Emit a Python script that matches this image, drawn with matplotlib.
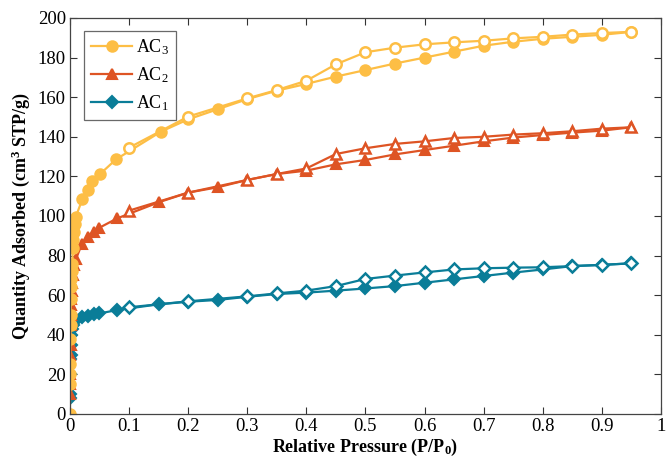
import matplotlib
matplotlib.use("Agg")
import matplotlib.pyplot as plt

plt.rcParams['font.family'] = ['Liberation Serif', 'DejaVu Serif']
plt.rcParams['mathtext.fontset'] = 'custom'
plt.rcParams['mathtext.rm'] = 'Liberation Serif'
plt.rcParams['mathtext.bf'] = 'Liberation Serif:bold'
plt.rcParams['mathtext.default'] = 'regular'

# ---------------- data ----------------
# AC3 adsorption
ac3_ads_p = [0.0, 0.0002, 0.0004, 0.0006, 0.0008, 0.001, 0.0012, 0.0015, 0.002, 0.0025,
             0.003, 0.004, 0.005, 0.006, 0.007, 0.008, 0.01, 0.021, 0.03, 0.038, 0.051,
             0.078, 0.154, 0.2, 0.25, 0.3, 0.35, 0.4, 0.45, 0.5, 0.55, 0.6, 0.65, 0.7,
             0.75, 0.8, 0.85, 0.9, 0.95]
ac3_ads_q = [0, 15, 20, 25, 38, 45, 50, 58, 64, 68,
             72, 76, 84, 88, 92, 96, 99.7, 108.4, 113.1, 117.5, 121.2,
             128.6, 142.6, 148.8, 153.9, 159.0, 163.3, 166.7, 170.4, 173.7, 177.0, 180.0, 183.0, 186.0,
             188.0, 189.5, 190.5, 191.5, 193.0]
ac3_des_p = [0.95, 0.9, 0.85, 0.8, 0.75, 0.7, 0.65, 0.6, 0.55, 0.5, 0.45, 0.4, 0.35, 0.3, 0.2, 0.1]
ac3_des_q = [193.0, 192.4, 191.6, 190.5, 189.7, 188.5, 187.7, 186.7, 185.0, 182.7, 176.6, 168.3,
             163.6, 159.4, 150.2, 134.5]

# AC2 adsorption
ac2_ads_p = [0.0002, 0.0004, 0.0006, 0.0008, 0.001, 0.0012, 0.0015, 0.002, 0.0025, 0.003,
             0.004, 0.005, 0.007, 0.01, 0.02, 0.03, 0.04, 0.05, 0.08, 0.15, 0.2, 0.25,
             0.3, 0.35, 0.4, 0.45, 0.5, 0.55, 0.6, 0.65, 0.7, 0.75, 0.8, 0.85, 0.9, 0.95]
ac2_ads_q = [10, 15, 20, 30, 35, 45, 50, 55, 58, 62,
             66, 70, 75, 78.1, 85.7, 89.6, 92.1, 94.1, 98.8, 106.9, 111.8, 114.5,
             118.2, 121.2, 122.9, 126.1, 128.3, 131.1, 133.3, 135.5, 137.7, 139.6, 140.9, 142.1, 143.1, 144.8]
ac2_des_p = [0.95, 0.9, 0.85, 0.8, 0.75, 0.7, 0.65, 0.6, 0.55, 0.5, 0.45, 0.4, 0.35, 0.3, 0.2, 0.1]
ac2_des_q = [144.8, 144.1, 142.8, 141.8, 141.1, 140.0, 139.4, 137.7, 136.4, 134.2, 131.3, 124.0,
             121.2, 118.2, 111.8, 102.7]

# AC1 adsorption
ac1_ads_p = [0.0002, 0.0004, 0.0006, 0.0008, 0.001, 0.0015, 0.002, 0.003, 0.005, 0.01,
             0.02, 0.03, 0.04, 0.05, 0.08, 0.15, 0.2, 0.25, 0.3, 0.35, 0.4, 0.45, 0.5,
             0.55, 0.6, 0.65, 0.7, 0.75, 0.8, 0.85, 0.9, 0.95]
ac1_ads_q = [8, 10, 20, 28, 30, 35, 40, 43, 45, 47.5,
             49.1, 49.6, 50.3, 50.8, 52.5, 55.4, 56.7, 57.6, 59.2, 60.6, 61.3, 62.3, 63.4,
             64.6, 66.3, 68.0, 69.7, 71.4, 73.0, 74.7, 75.3, 76.1]
ac1_des_p = [0.95, 0.9, 0.85, 0.8, 0.75, 0.7, 0.65, 0.6, 0.55, 0.5, 0.45, 0.4, 0.35, 0.3, 0.2, 0.1]
ac1_des_q = [76.1, 75.3, 74.7, 74.1, 73.9, 73.6, 73.0, 71.5, 69.9, 68.2, 64.6, 62.3,
             60.9, 59.4, 56.9, 53.9]

labels = ['AC$_3$', 'AC$_2$', 'AC$_1$']
colors = ['#FDBE45', '#DE5424', '#0A7D98']

# ---------------- plot ----------------
fig = plt.figure(figsize=(6.66, 4.67), dpi=100)
ax = fig.add_axes([0.105, 0.1135, 0.8875, 0.848])

lw = 1.6
handles = {}
series = [
    (ac1_ads_p, ac1_ads_q, ac1_des_p, ac1_des_q, 'D', colors[2], labels[2], 6.5),
    (ac2_ads_p, ac2_ads_q, ac2_des_p, ac2_des_q, '^', colors[1], labels[1], 7.5),
    (ac3_ads_p, ac3_ads_q, ac3_des_p, ac3_des_q, 'o', colors[0], labels[0], 7.5),
]
for ap, aq, dp, dq, mk, c, lab, m in series:
    h, = ax.plot(ap, aq, marker=mk, color=c, lw=lw, ms=m, mfc=c, mec=c, mew=1.5, label=lab)
    ax.plot(dp, dq, marker=mk, color=c, lw=lw, ms=m, mfc='white', mec=c, mew=1.8)
    handles[lab] = h

ax.set_xlim(0, 1)
ax.set_ylim(0, 200)
ax.set_xticks([0, 0.1, 0.2, 0.3, 0.4, 0.5, 0.6, 0.7, 0.8, 0.9, 1])
ax.set_xticklabels(['0', '0.1', '0.2', '0.3', '0.4', '0.5', '0.6', '0.7', '0.8', '0.9', '1'])
ax.set_yticks(range(0, 201, 20))
ax.tick_params(direction='in', top=True, right=True, labelsize=13.5, length=5,
               width=0.8, color='#333333', pad=3)
for s in ax.spines.values():
    s.set_linewidth(0.9)
    s.set_color('#444444')

ax.set_xlabel('Relative Pressure (P/P$_0$)', fontsize=13, fontweight='bold', labelpad=1)
ax.set_ylabel('Quantity Adsorbed (cm$^3$ STP/g)', fontsize=13, fontweight='bold', labelpad=4)

leg = ax.legend([handles[l] for l in labels], labels, loc='upper left',
                bbox_to_anchor=(0.014, 0.982), fontsize=13, frameon=True, fancybox=False,
                edgecolor='#444444', handlelength=2.3, borderpad=0.4, labelspacing=0.45,
                handletextpad=0.2, borderaxespad=0.3)
leg.get_frame().set_linewidth(0.9)

fig.savefig('out.png', dpi=100)
